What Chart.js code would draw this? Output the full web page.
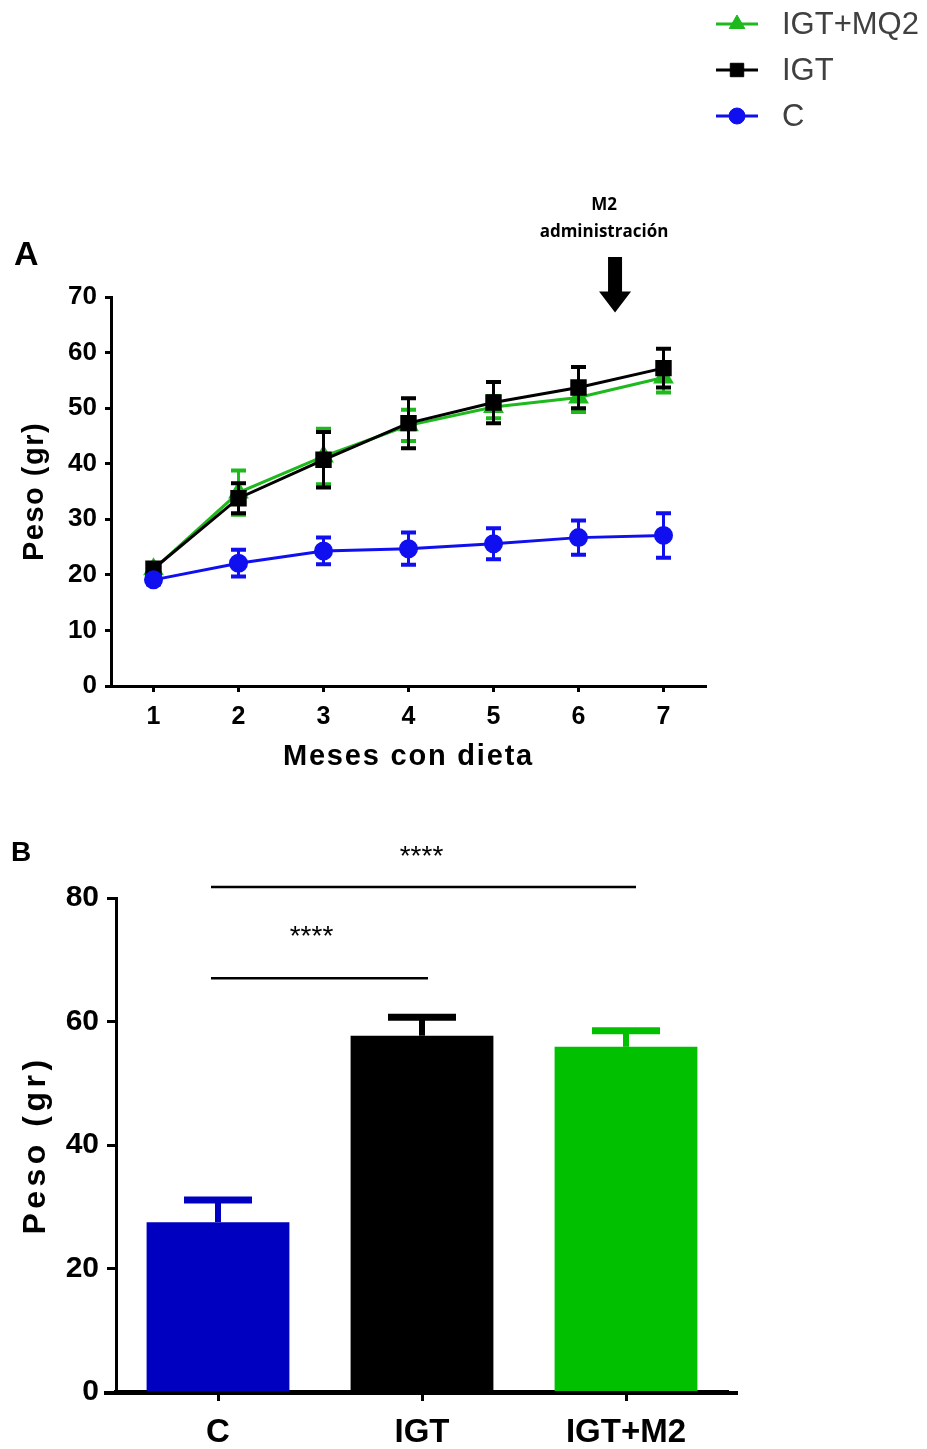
<!DOCTYPE html>
<html>
<head>
<meta charset="utf-8">
<script src="https://cdn.jsdelivr.net/npm/chart.js@4.4.0/dist/chart.umd.min.js"></script>
<style>
  html, body { margin: 0; padding: 0; background: #fff; }
  #wrap { position: relative; width: 927px; height: 1449px; }
  #boxA { position: absolute; left: 0; top: 0; width: 927px; height: 790px; }
  #boxB { position: absolute; left: 0; top: 790px; width: 927px; height: 659px; }
</style>
</head>
<body>
<div id="wrap">
  <div id="boxA"><canvas id="chartA"></canvas></div>
  <div id="boxB"><canvas id="chartB"></canvas></div>
</div>
<script>
// --- panel A: weight over months on diet
const months = ['1', '2', '3', '4', '5', '6', '7'];
const weightC = [19.1, 22.1, 24.3, 24.7, 25.6, 26.7, 27.1];
const errC = [0.8, 2.4, 2.4, 2.9, 2.8, 3.1, 4.0];
const weightIGT = [21.1, 33.8, 40.7, 47.3, 51.0, 53.7, 57.2];
const errIGT = [0.8, 2.7, 5.0, 4.5, 3.7, 3.7, 3.5];
const weightIGTMQ2 = [21.0, 34.8, 41.3, 46.9, 50.2, 51.9, 55.5];
const errIGTMQ2 = [0.8, 4.0, 5.0, 2.8, 2.0, 2.6, 2.7];

// --- panel B: final weight per group
const groups = ['C', 'IGT', 'IGT+M2'];
const finalWeight = [27.5, 57.7, 55.9];
const finalErr = [3.6, 3.0, 2.6];

// significance brackets (group index from/to, height in gr)
const sigFrom = [0, 0];
const sigTo = [1, 2];
const sigLevel = [67, 81.8];
const sigStarLevel = [73.6, 86.6];
const sigLabel = ['****', '****'];

const BLUE = '#0F0FEF';
const GREEN = '#1DB91D';
const SANS = 'Arial, "Liberation Sans", sans-serif';
const NARROW = '"Liberation Sans Narrow", "Arial Narrow", Arial, sans-serif';

const errorBars = {
  id: 'errorBars',
  afterDatasetDraw(chart, args, opts) {
    const ds = chart.data.datasets[args.index];
    if (!ds.errors) return;
    const ctx = chart.ctx;
    const yScale = chart.scales.y;
    ctx.save();
    args.meta.data.forEach((el, i) => {
      const v = ds.data[i];
      const e = ds.errors[i];
      const x = el.x;
      const yTop = yScale.getPixelForValue(v + e);
      const yBot = yScale.getPixelForValue(opts.upOnly ? v : v - e);
      ctx.strokeStyle = Array.isArray(ds.backgroundColor) ? ds.backgroundColor[i] : ds.borderColor;
      ctx.lineWidth = opts.stem;
      ctx.beginPath();
      ctx.moveTo(x, yTop);
      ctx.lineTo(x, yBot);
      ctx.stroke();
      ctx.lineWidth = opts.capThick;
      const half = opts.capWidth / 2;
      ctx.beginPath();
      ctx.moveTo(x - half, yTop);
      ctx.lineTo(x + half, yTop);
      if (!opts.upOnly) {
        ctx.moveTo(x - half, yBot);
        ctx.lineTo(x + half, yBot);
      }
      ctx.stroke();
    });
    ctx.restore();
  }
};

const axisTitles = {
  id: 'axisTitles',
  afterDraw(chart, args, opts) {
    const {ctx, chartArea} = chart;
    if (opts.y) {
      ctx.save();
      ctx.fillStyle = '#000';
      ctx.font = opts.y.font;
      ctx.letterSpacing = opts.y.spacing;
      ctx.textAlign = 'center';
      ctx.textBaseline = 'middle';
      ctx.translate(opts.y.x, (chartArea.top + chartArea.bottom) / 2);
      ctx.rotate(-Math.PI / 2);
      ctx.fillText(opts.y.text, 0, 0);
      ctx.restore();
    }
    if (opts.x) {
      ctx.save();
      ctx.fillStyle = '#000';
      ctx.font = opts.x.font;
      ctx.letterSpacing = opts.x.spacing;
      ctx.textAlign = 'center';
      ctx.textBaseline = 'middle';
      ctx.fillText(opts.x.text, (chartArea.left + chartArea.right) / 2, opts.x.y);
      ctx.restore();
    }
    if (opts.panel) {
      ctx.save();
      ctx.fillStyle = '#000';
      ctx.font = opts.panel.font;
      ctx.textAlign = 'left';
      ctx.textBaseline = 'middle';
      ctx.fillText(opts.panel.text, opts.panel.x, opts.panel.y);
      ctx.restore();
    }
  }
};

const sideLegend = {
  id: 'sideLegend',
  afterDraw(chart, args, opts) {
    const ctx = chart.ctx;
    const items = chart.data.datasets.slice().reverse();
    items.forEach((ds, i) => {
      const y = opts.y + i * opts.rowGap;
      ctx.save();
      ctx.strokeStyle = ds.borderColor;
      ctx.fillStyle = ds.backgroundColor;
      ctx.lineWidth = 3;
      ctx.beginPath();
      ctx.moveTo(opts.x, y);
      ctx.lineTo(opts.x + opts.lineLen, y);
      ctx.stroke();
      ctx.lineWidth = 1;
      Chart.helpers.drawPoint(ctx, {
        pointStyle: ds.pointStyle, radius: ds.pointRadius, borderWidth: 1, rotation: 0
      }, opts.x + opts.lineLen / 2, y);
      ctx.fillStyle = '#404040';
      ctx.font = opts.font;
      ctx.textAlign = 'left';
      ctx.textBaseline = 'middle';
      ctx.fillText(ds.label, opts.x + opts.textGap, y + 1);
      ctx.restore();
    });
  }
};

const arrowNote = {
  id: 'arrowNote',
  afterDraw(chart, args, opts) {
    const {ctx} = chart;
    const xs = chart.scales.x;
    const ys = chart.scales.y;
    const x = xs.getPixelForValue(opts.at);
    const top = ys.getPixelForValue(opts.top);
    const neck = ys.getPixelForValue(opts.neck);
    const tip = ys.getPixelForValue(opts.tip);
    ctx.save();
    ctx.fillStyle = '#000';
    ctx.beginPath();
    ctx.moveTo(x - 7, top);
    ctx.lineTo(x + 7, top);
    ctx.lineTo(x + 7, neck);
    ctx.lineTo(x + 16, neck);
    ctx.lineTo(x, tip);
    ctx.lineTo(x - 16, neck);
    ctx.lineTo(x - 7, neck);
    ctx.closePath();
    ctx.fill();
    ctx.font = opts.font;
    ctx.textAlign = 'center';
    ctx.textBaseline = 'middle';
    const tx = xs.getPixelForValue(opts.textAt);
    opts.lines.forEach((t, i) => {
      ctx.fillText(t, tx, ys.getPixelForValue(opts.lineLevels[i]));
    });
    ctx.restore();
  }
};

const sigBrackets = {
  id: 'sigBrackets',
  afterDraw(chart, args, opts) {
    const {ctx, chartArea} = chart;
    const xs = chart.scales.x;
    const ys = chart.scales.y;
    ctx.save();
    // x axis line runs a little past the plot, as in the figure
    ctx.strokeStyle = '#000';
    ctx.lineWidth = 4;
    ctx.beginPath();
    ctx.moveTo(chartArea.left - 12, chartArea.bottom + 1);
    ctx.lineTo(chartArea.right + 10, chartArea.bottom + 1);
    ctx.stroke();
    ctx.lineWidth = 2.5;
    ctx.fillStyle = '#000';
    ctx.font = opts.font;
    ctx.textAlign = 'center';
    ctx.textBaseline = 'middle';
    sigFrom.forEach((from, i) => {
      const x1 = xs.getPixelForValue(from) - 7;
      const x2 = xs.getPixelForValue(sigTo[i]) + 6 + 4 * (sigTo[i] - 1);
      const y = ys.getPixelForValue(sigLevel[i]);
      ctx.beginPath();
      ctx.moveTo(x1, y);
      ctx.lineTo(x2, y);
      ctx.stroke();
      ctx.fillText(sigLabel[i], (x1 + x2) / 2 - 8 + 6 * (sigTo[i] - 1), ys.getPixelForValue(sigStarLevel[i]));
    });
    ctx.restore();
  }
};

const chartA = new Chart(document.getElementById('chartA'), {
  type: 'line',
  data: {
    labels: months,
    datasets: [
      {
        label: 'C', data: weightC, errors: errC,
        borderColor: BLUE, backgroundColor: BLUE,
        pointStyle: 'circle', pointRadius: 8, borderWidth: 3, tension: 0
      },
      {
        label: 'IGT', data: weightIGT, errors: errIGT,
        borderColor: '#000', backgroundColor: '#000',
        pointStyle: 'rect', pointRadius: 9.5, borderWidth: 3, tension: 0
      },
      {
        label: 'IGT+MQ2', data: weightIGTMQ2, errors: errIGTMQ2,
        borderColor: GREEN, backgroundColor: GREEN,
        pointStyle: 'triangle', pointRadius: 9, borderWidth: 3, tension: 0
      }
    ]
  },
  options: {
    responsive: true,
    maintainAspectRatio: false,
    animation: false,
    events: [],
    layout: { padding: { left: 0, right: 221, top: 297, bottom: 0 } },
    plugins: {
      legend: { display: false },
      tooltip: { enabled: false },
      errorBars: { stem: 3, capWidth: 15, capThick: 4, upOnly: false },
      axisTitles: {
        y: { text: 'Peso (gr)', x: 35, font: 'bold 29px ' + SANS, spacing: '1.5px' },
        x: { text: 'Meses con dieta', y: 757, font: 'bold 29px ' + SANS, spacing: '1.8px' },
        panel: { text: 'A', x: 14, y: 256, font: 'bold 34px ' + SANS }
      },
      sideLegend: { x: 716, y: 24, rowGap: 46, lineLen: 42, textGap: 66, font: '31px ' + SANS },
      arrowNote: {
        at: 5.43, top: 77.2, neck: 71.0, tip: 67.2,
        textAt: 5.3, lines: ['M2', 'administración'], lineLevels: [86.6, 81.6],
        font: 'bold 17px "Open Sans", "Noto Sans", sans-serif'
      }
    },
    scales: {
      x: {
        offset: true,
        afterFit(scale) { scale.height = 104; },
        grid: { drawOnChartArea: false, drawTicks: true, tickLength: 6, tickWidth: 3, tickColor: '#000' },
        border: { display: true, color: '#000', width: 3 },
        ticks: { color: '#000', font: { family: SANS, size: 25, weight: 'bold' }, padding: 10, maxRotation: 0 }
      },
      y: {
        min: 0, max: 70,
        afterFit(scale) { scale.width = 111; },
        grid: { drawOnChartArea: false, drawTicks: true, tickLength: 6, tickWidth: 3, tickColor: '#000' },
        border: { display: true, color: '#000', width: 3 },
        ticks: { stepSize: 10, color: '#000', font: { family: SANS, size: 26, weight: 'bold' }, padding: 8 }
      }
    }
  },
  plugins: [errorBars, axisTitles, sideLegend, arrowNote]
});

const chartB = new Chart(document.getElementById('chartB'), {
  type: 'bar',
  data: {
    labels: groups,
    datasets: [{
      label: 'Peso final',
      data: finalWeight,
      errors: finalErr,
      backgroundColor: ['#0000C0', '#000000', '#00C000'],
      borderWidth: 0,
      barPercentage: 0.7,
      categoryPercentage: 1.0
    }]
  },
  options: {
    responsive: true,
    maintainAspectRatio: false,
    animation: false,
    events: [],
    layout: { padding: { left: 0, right: 199, top: 108, bottom: 0 } },
    plugins: {
      legend: { display: false },
      tooltip: { enabled: false },
      errorBars: { stem: 6, capWidth: 68, capThick: 7, upOnly: true },
      axisTitles: {
        y: { text: 'Peso (gr)', x: 36, font: 'bold 32px ' + SANS, spacing: '4.5px' },
        panel: { text: 'B', x: 11, y: 63, font: 'bold 28px ' + SANS }
      },
      sigBrackets: { font: '28px ' + SANS }
    },
    scales: {
      x: {
        afterFit(scale) { scale.height = 57; },
        grid: { offset: false, drawOnChartArea: false, drawTicks: true, tickLength: 9, tickWidth: 3, tickColor: '#000' },
        border: { display: true, color: '#000', width: 4 },
        ticks: { color: '#000', font: { family: NARROW, size: 33, weight: 'bold' }, padding: 12, maxRotation: 0 }
      },
      y: {
        min: 0, max: 80,
        afterFit(scale) { scale.width = 116; },
        grid: { drawOnChartArea: false, drawTicks: true, tickLength: 9, tickWidth: 3, tickColor: '#000' },
        border: { display: true, color: '#000', width: 3 },
        ticks: { stepSize: 20, color: '#000', font: { family: NARROW, size: 30, weight: 'bold' }, padding: 8 }
      }
    }
  },
  plugins: [errorBars, axisTitles, sigBrackets]
});
</script>
</body>
</html>
